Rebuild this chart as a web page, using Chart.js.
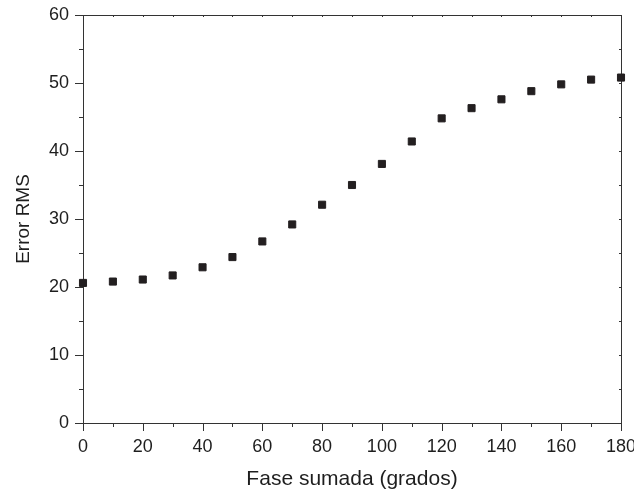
<!DOCTYPE html>
<html>
<head>
<meta charset="utf-8">
<script src="https://cdn.jsdelivr.net/npm/chart.js@4"></script>
<style>
  html, body { margin: 0; padding: 0; background: #fff; }
  #wrap { width: 634px; height: 495px; }
</style>
</head>
<body>
<div id="wrap"><canvas id="chart" width="634" height="495"></canvas></div>
<script>
// datos
const phase = [0, 10, 20, 30, 40, 50, 60, 70, 80, 90, 100, 110, 120, 130, 140, 150, 160, 170, 180];
const rmsError = [20.6, 20.8, 21.1, 21.7, 22.9, 24.4, 26.7, 29.2, 32.1, 35.0, 38.1, 41.4, 44.8, 46.3, 47.6, 48.8, 49.8, 50.5, 50.8];
const xMajor = [0, 20, 40, 60, 80, 100, 120, 140, 160, 180];
const xMinor = [10, 30, 50, 70, 90, 110, 130, 150, 170];
const yMajor = [0, 10, 20, 30, 40, 50, 60];
const yMinor = [5, 15, 25, 35, 45, 55];

const axisColor = '#333';
const textColor = '#1e1e1e';

// marco y marcas de los ejes (estilo Origin)
const framePlugin = {
  id: 'frame',
  beforeDatasetsDraw(chart) {
    const { ctx, chartArea: a, scales: { x, y } } = chart;
    ctx.save();
    ctx.strokeStyle = axisColor;
    ctx.lineWidth = 1;
    ctx.beginPath();
    ctx.rect(a.left + 0.5, a.top + 0.5, a.right - a.left, a.bottom - a.top);
    // abajo
    xMajor.forEach(v => {
      const px = Math.round(x.getPixelForValue(v)) + 0.5;
      ctx.moveTo(px, a.bottom); ctx.lineTo(px, a.bottom + 8);
      ctx.moveTo(px, a.top); ctx.lineTo(px, a.top + 2);
    });
    xMinor.forEach(v => {
      const px = Math.round(x.getPixelForValue(v)) + 0.5;
      ctx.moveTo(px, a.bottom); ctx.lineTo(px, a.bottom + 4);
      ctx.moveTo(px, a.top); ctx.lineTo(px, a.top + 2);
    });
    // izquierda
    yMajor.forEach(v => {
      const py = Math.round(y.getPixelForValue(v)) + 0.5;
      ctx.moveTo(a.left - 8, py); ctx.lineTo(a.left, py);
      ctx.moveTo(a.right, py); ctx.lineTo(a.right - 2, py);
    });
    yMinor.forEach(v => {
      const py = Math.round(y.getPixelForValue(v)) + 0.5;
      ctx.moveTo(a.left - 4, py); ctx.lineTo(a.left, py);
      ctx.moveTo(a.right, py); ctx.lineTo(a.right - 2, py);
    });
    ctx.stroke();
    ctx.restore();
  }
};

new Chart(document.getElementById('chart'), {
  type: 'scatter',
  data: {
    datasets: [{
      data: phase.map((p, i) => ({ x: p, y: rmsError[i] })),
      pointStyle: 'rect',
      pointRadius: 5,
      pointBorderWidth: 1,
      backgroundColor: '#231f20',
      borderColor: '#231f20',
      clip: false
    }]
  },
  options: {
    responsive: false,
    animation: false,
    layout: { padding: { top: 15, right: 13, left: 0, bottom: 0 } },
    plugins: { legend: { display: false }, tooltip: { enabled: false } },
    scales: {
      x: {
        type: 'linear',
        min: 0, max: 180,
        afterBuildTicks: s => { s.ticks = xMajor.map(v => ({ value: v })); },
        afterFit: s => { s.height = 72; s.paddingLeft = 0; s.paddingRight = 0; },
        grid: { display: false, drawTicks: false },
        border: { display: false },
        ticks: {
          padding: 13,
          maxRotation: 0,
          autoSkip: false,
          color: textColor,
          font: { family: 'Liberation Sans, Arial, sans-serif', size: 18 }
        },
        title: {
          display: true,
          text: 'Fase sumada (grados)',
          color: textColor,
          padding: { top: 0, bottom: 3 },
          font: { family: 'Liberation Sans, Arial, sans-serif', size: 21 }
        }
      },
      y: {
        type: 'linear',
        min: 0, max: 60,
        afterBuildTicks: s => { s.ticks = yMajor.map(v => ({ value: v })); },
        afterFit: s => { s.width = 83; s.paddingTop = 0; s.paddingBottom = 0; },
        grid: { display: false, drawTicks: false },
        border: { display: false },
        ticks: {
          padding: 14,
          autoSkip: false,
          color: textColor,
          font: { family: 'Liberation Sans, Arial, sans-serif', size: 18 }
        },
        title: {
          display: true,
          text: 'Error RMS',
          color: textColor,
          padding: { top: 12, bottom: 0 },
          font: { family: 'Liberation Sans, Arial, sans-serif', size: 19 }
        }
      }
    }
  },
  plugins: [framePlugin]
});
</script>
</body>
</html>
